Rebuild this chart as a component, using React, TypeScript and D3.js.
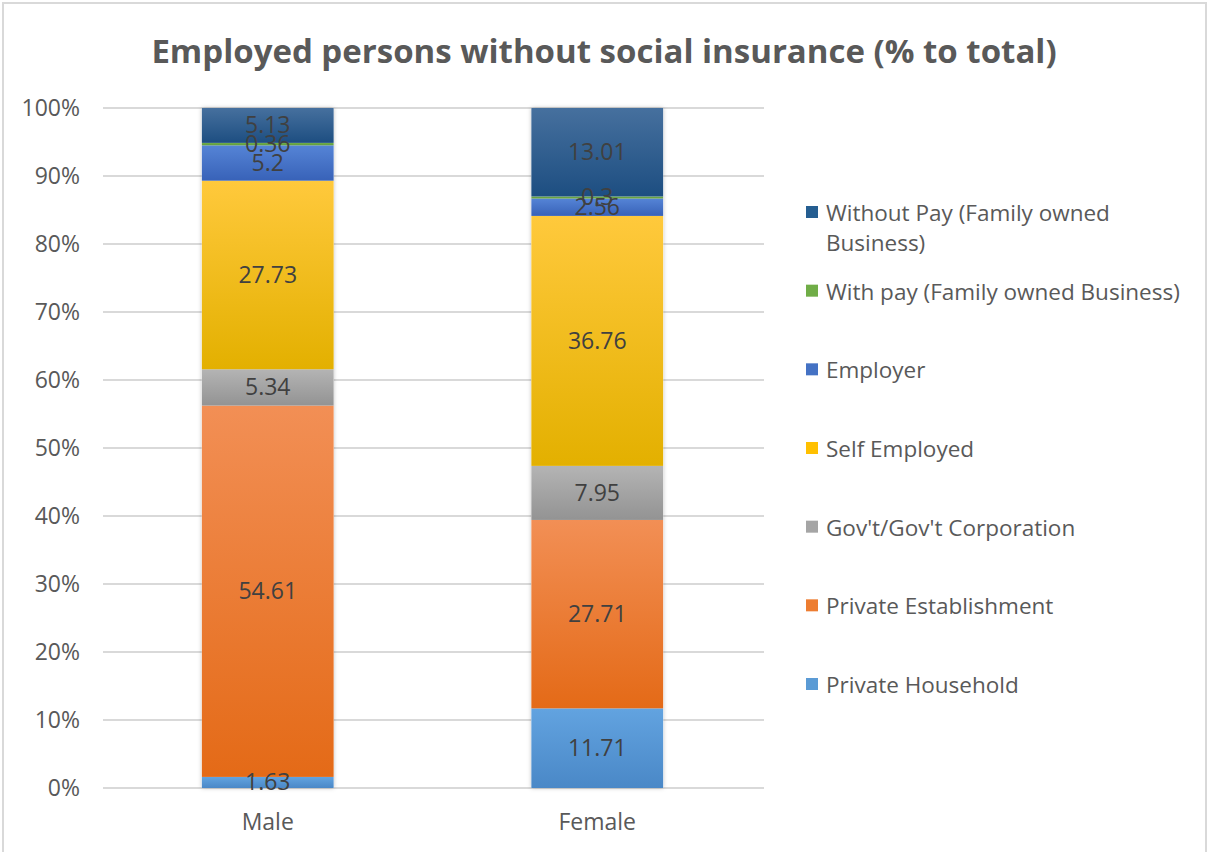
import React from 'react';
import * as d3 from 'd3';

const categories = ['Male', 'Female'];
const seriesNames = [
  'Private Household',
  'Private Establishment',
  "Gov't/Gov't Corporation",
  'Self Employed',
  'Employer',
  'With pay (Family owned Business)',
  'Without Pay (Family owned Business)',
];
const maleValues = [1.63, 54.61, 5.34, 27.73, 5.2, 0.36, 5.13];
const femaleValues = [11.71, 27.71, 7.95, 36.76, 2.56, 0.3, 13.01];
const yTicks = [0, 10, 20, 30, 40, 50, 60, 70, 80, 90, 100];

// Office-style colours: [top (lighter), bottom (base)]
const gradients: [string, string][] = [
  ['#62a3e0', '#4a88c7'],
  ['#f28f55', '#e46a17'],
  ['#b4b4b4', '#939393'],
  ['#ffc93c', '#e3b000'],
  ['#5584d6', '#3862b8'],
  ['#72b04a', '#5f9a3a'],
  ['#46709e', '#1d4e81'],
];
const legendColors = ['#5b9bd5', '#ed7d31', '#a5a5a5', '#ffc000', '#4472c4', '#70ad47', '#255e91'];

const W = 1208;
const H = 852;
const margin = { top: 108, left: 103, right: 446, bottom: 64 };
const FONT = '"Open Sans", Lato, sans-serif';

export default function App() {
  const rows = categories.map((c, i) => {
    const vals = i === 0 ? maleValues : femaleValues;
    const r: Record<string, any> = { cat: c };
    seriesNames.forEach((s, j) => (r[s] = vals[j]));
    return r;
  });
  const stacked = d3.stack<any>().keys(seriesNames)(rows);

  const x = d3
    .scaleBand<string>()
    .domain(categories)
    .range([margin.left, W - margin.right])
    .paddingInner(0.6)
    .paddingOuter(0.3);
  const y = d3.scaleLinear().domain([0, 100]).range([H - margin.bottom, margin.top]);
  const y0 = y(0);

  const legendY = d3.scalePoint<string>()
    .domain([...seriesNames].reverse())
    .range([213, 685]);

  return (
    <svg width={W} height={H} style={{ position: 'absolute', left: 0, top: 0, fontFamily: FONT }}>
      <defs>
        {gradients.map((g, i) => (
          <linearGradient key={i} id={`g${i}`} x1="0" y1="0" x2="0" y2="1">
            <stop offset="0" stopColor={g[0]} />
            <stop offset="1" stopColor={g[1]} />
          </linearGradient>
        ))}
        <filter id="shadow" x="-10%" y="-5%" width="120%" height="110%">
          <feDropShadow dx="0" dy="0" stdDeviation="2" floodColor="#000" floodOpacity="0.25" />
        </filter>
      </defs>
      <rect x={0} y={0} width={W} height={H} fill="#fff" />
      <rect x={3} y={3} width={W - 5} height={H + 10} fill="none" stroke="#d9d9d9" strokeWidth={2} />

      <text x={604} y={63} textAnchor="middle" fontSize={33} fontWeight={700} fill="#595959">
        Employed persons without social insurance (% to total)
      </text>

      {yTicks.map((t) => (
        <g key={t}>
          <line x1={margin.left} x2={W - margin.right + 2} y1={y(t)} y2={y(t)} stroke="#d9d9d9" strokeWidth={2} />
          <text x={80} y={y(t) + 8} textAnchor="end" fontSize={23} fill="#595959">
            {t}%
          </text>
        </g>
      ))}

      {categories.map((c) => (
        <text key={c} x={x(c)! + x.bandwidth() / 2} y={830} textAnchor="middle" fontSize={23} fill="#595959">
          {c}
        </text>
      ))}

      {categories.map((c) => (
        <rect key={'sh' + c} x={x(c)} y={y(100)} width={x.bandwidth()} height={y0 - y(100)} fill="#fff" filter="url(#shadow)" />
      ))}

      {stacked.map((layer, si) => (
        <g key={layer.key}>
          {layer.map((d, ci) => (
            <rect
              key={ci}
              x={x(categories[ci])}
              y={y(d[1])}
              width={x.bandwidth()}
              height={y(d[0]) - y(d[1])}
              fill={`url(#g${si})`}
            />
          ))}
        </g>
      ))}

      {stacked.map((layer) => (
        <g key={'l' + layer.key}>
          {layer.map((d, ci) => (
            <text
              key={ci}
              x={x(categories[ci])! + x.bandwidth() / 2}
              y={(y(d[0]) + y(d[1])) / 2 + 8}
              textAnchor="middle"
              fontSize={23}
              fill="#404040"
            >
              {String(+(d[1] - d[0]).toFixed(2))}
            </text>
          ))}
        </g>
      ))}

      {seriesNames.map((s, i) => {
        const ly = legendY(s)!;
        const lines = i === 6 ? ['Without Pay (Family owned', 'Business)'] : [s];
        return (
          <g key={s}>
            <rect x={806} y={ly - 7} width={12} height={12} fill={legendColors[i]} />
            <text x={826} y={ly + 8} fontSize={22.5} fill="#595959">
              {lines.map((l, k) => (
                <tspan key={k} x={826} dy={k === 0 ? 0 : 30}>
                  {l}
                </tspan>
              ))}
            </text>
          </g>
        );
      })}
    </svg>
  );
}
